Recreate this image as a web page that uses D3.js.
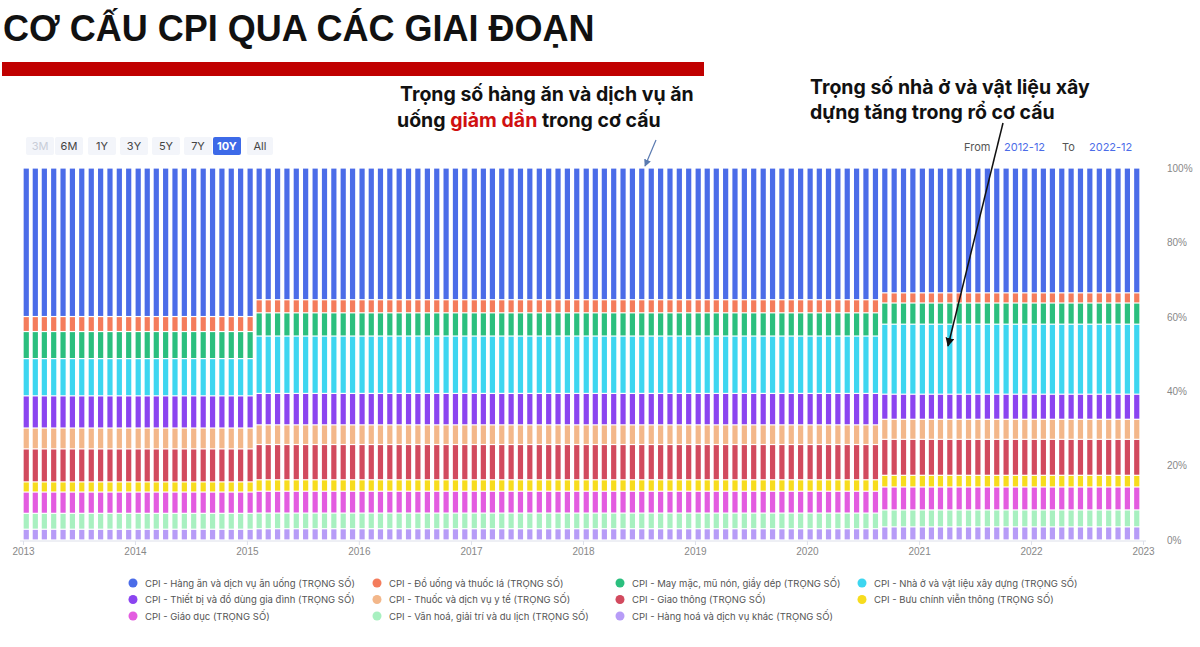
<!DOCTYPE html>
<html><head><meta charset="utf-8">
<script src="https://cdn.jsdelivr.net/npm/d3@7"></script>
<style>body{margin:0;background:#fff;font-family:Inter,"Noto Sans",sans-serif}</style>
</head><body>
<svg id="c" width="1200" height="647"></svg>
<script>
// series names (legend order = stack order top->bottom)
const seriesNames = [
  "CPI - Hàng ăn và dịch vụ ăn uống (TRỌNG SỐ)",
  "CPI - Đồ uống và thuốc lá (TRỌNG SỐ)",
  "CPI - May mặc, mũ nón, giầy dép (TRỌNG SỐ)",
  "CPI - Nhà ở và vật liệu xây dựng (TRỌNG SỐ)",
  "CPI - Thiết bị và đồ dùng gia đình (TRỌNG SỐ)",
  "CPI - Thuốc và dịch vụ y tế (TRỌNG SỐ)",
  "CPI - Giao thông (TRỌNG SỐ)",
  "CPI - Bưu chính viễn thông (TRỌNG SỐ)",
  "CPI - Giáo dục (TRỌNG SỐ)",
  "CPI - Văn hoá, giải trí và du lịch (TRỌNG SỐ)",
  "CPI - Hàng hoá và dịch vụ khác (TRỌNG SỐ)"
];
const colors = ["#4b6ce8","#f47c5c","#2bbf7e","#3dd6f0","#8b44f0","#f3b78a","#d24a5e","#f7dc1e","#e35ce0","#a8f0c0","#b79cf7"];
// weights per basket period
const weights2009 = [39.93,4.03,7.28,10.01,8.65,5.61,8.87,2.73,5.72,4.28,2.89];
const weights2014 = [36.12,3.59,6.37,15.73,8.62,5.39,9.67,3.14,5.99,4.29,3.09];
const weights2019 = [33.56,2.73,5.70,18.82,6.74,5.39,9.67,3.14,6.17,4.55,3.53];
const periodStarts = ["2013-01","2015-02","2020-09"];
const yTicks = [0,20,40,60,80,100];
const rangeButtons = ["3M","6M","1Y","3Y","5Y","7Y","10Y","All"];

const parse = d3.timeParse("%Y-%m");
const months = d3.timeMonths(new Date(2013,0,1), new Date(2023,0,1));
const starts = periodStarts.map(parse);
const data = months.map(m => {
  const w = m >= starts[2] ? weights2019 : m >= starts[1] ? weights2014 : weights2009;
  const tot = d3.sum(w);
  const row = {date: m};
  seriesNames.forEach((s,i) => row[s] = w[i] / tot * 100);
  return row;
});

const svg = d3.select("#c");
const x = d3.scaleTime().domain([new Date(2013,0,1), new Date(2023,0,1)]).range([23,1143]);
const y = d3.scaleLinear().domain([0,100]).range([540,168]);

// title
svg.append("text").attr("x",3).attr("y",41).attr("font-size",36).attr("font-weight","bold")
  .attr("font-family","Arial, Liberation Sans, sans-serif").attr("fill","#111").text("CƠ CẤU CPI QUA CÁC GIAI ĐOẠN");
svg.append("rect").attr("x",2).attr("y",62).attr("width",702).attr("height",14).attr("fill","#c00000");

// range buttons
const bx = [28,57,90,122,154,186,215,249];
rangeButtons.forEach((b,i) => {
  const w = b === "All" ? 26 : 28;
  svg.append("rect").attr("x",bx[i]-2).attr("y",137).attr("width",w).attr("height",18).attr("rx",2)
    .attr("fill", b==="10Y" ? "#3d6ae8" : "#f3f5fa");
  svg.append("text").attr("x",bx[i]-2+w/2).attr("y",150).attr("text-anchor","middle").attr("font-size",11)
    .attr("font-weight", b==="10Y" ? "bold" : "normal")
    .attr("fill", b==="10Y" ? "#fff" : b==="3M" ? "#c8cdd8" : "#444").text(b);
});
svg.append("text").attr("x",964).attr("y",151).attr("font-size",11).attr("fill","#555").text("From");
svg.append("text").attr("x",1004).attr("y",151).attr("font-size",11).attr("fill","#4b6ce8").text("2012-12");
svg.append("text").attr("x",1062).attr("y",151).attr("font-size",11).attr("fill","#555").text("To");
svg.append("text").attr("x",1089).attr("y",151).attr("font-size",11).attr("fill","#4b6ce8").text("2022-12");

// stacked bars
const stack = d3.stack().keys(seriesNames.slice().reverse());
const layers = stack(data);
const bw = 5.2;
svg.append("g").selectAll("g").data(layers).join("g")
  .attr("fill", d => colors[seriesNames.indexOf(d.key)])
  .selectAll("rect").data(d => d).join("rect")
  .attr("x", d => (x(d.data.date) + x(d3.timeMonth.offset(d.data.date,1)))/2 - bw/2 - 1.5)
  .attr("width", bw)
  .attr("y", d => y(d[1]) + 0.6)
  .attr("height", d => Math.max(0, y(d[0]) - y(d[1]) - 1.2));

// axes
svg.append("line").attr("x1",20).attr("x2",1146).attr("y1",541).attr("y2",541).attr("stroke","#dde0ea");
const xa = svg.append("g").attr("transform","translate(0,541)")
  .call(d3.axisBottom(x).ticks(d3.timeYear.every(1)).tickFormat(d3.timeFormat("%Y")).tickSize(4));
xa.select(".domain").remove();
xa.selectAll("line").attr("stroke","#dde0ea");
xa.selectAll("text").attr("fill","#888").attr("font-size",10);
const ya = svg.append("g").attr("transform","translate(1160,0)")
  .call(d3.axisRight(y).tickValues(yTicks).tickFormat(d => d + "%").tickSize(0));
ya.select(".domain").remove();
ya.selectAll("text").attr("fill","#888").attr("font-size",10).attr("dx",4);

// annotations
svg.append("text").attr("x",400).attr("y",101).attr("font-size",19.5).attr("font-weight","bold").attr("fill","#111")
  .text("Trọng số hàng ăn và dịch vụ ăn");
const a1b = svg.append("text").attr("font-size",19.5).attr("font-weight","bold").attr("fill","#111").attr("x",397).attr("y",127);
a1b.append("tspan").text("uống ");
a1b.append("tspan").attr("fill","#d01010").text("giảm dần");
a1b.append("tspan").text(" trong cơ cấu");
const a2 = svg.append("text").attr("font-size",19.5).attr("font-weight","bold").attr("fill","#111");
a2.append("tspan").attr("x",810).attr("y",94).text("Trọng số nhà ở và vật liệu xây");
a2.append("tspan").attr("x",810).attr("y",119).text("dựng tăng trong rổ cơ cấu");

const defs = svg.append("defs");
[["ab","#5a7ab0"],["ak","#111"]].forEach(([id,c]) => {
  defs.append("marker").attr("id",id).attr("viewBox","0 0 10 10").attr("refX",9).attr("refY",5)
    .attr("markerWidth",6).attr("markerHeight",6).attr("orient","auto")
    .append("path").attr("d","M0,0L10,5L0,10z").attr("fill",c);
});
svg.append("line").attr("x1",656).attr("y1",140).attr("x2",645).attr("y2",166).attr("stroke","#5a7ab0").attr("stroke-width",1.2).attr("marker-end","url(#ab)");
svg.append("line").attr("x1",1003).attr("y1",123).attr("x2",948).attr("y2",346).attr("stroke","#111").attr("stroke-width",1.5).attr("marker-end","url(#ak)");

// legend
const lx = [133,377,620,862];
seriesNames.forEach((s,i) => {
  const col = i % 4, row = Math.floor(i/4);
  const g = svg.append("g").attr("transform",`translate(${lx[col]},${583 + row*16.5})`);
  g.append("circle").attr("r",4.5).attr("fill",colors[i]);
  g.append("text").attr("x",12).attr("y",3.5).attr("font-size",9.5).attr("fill","#555").text(s);
});
</script>
</body></html>
